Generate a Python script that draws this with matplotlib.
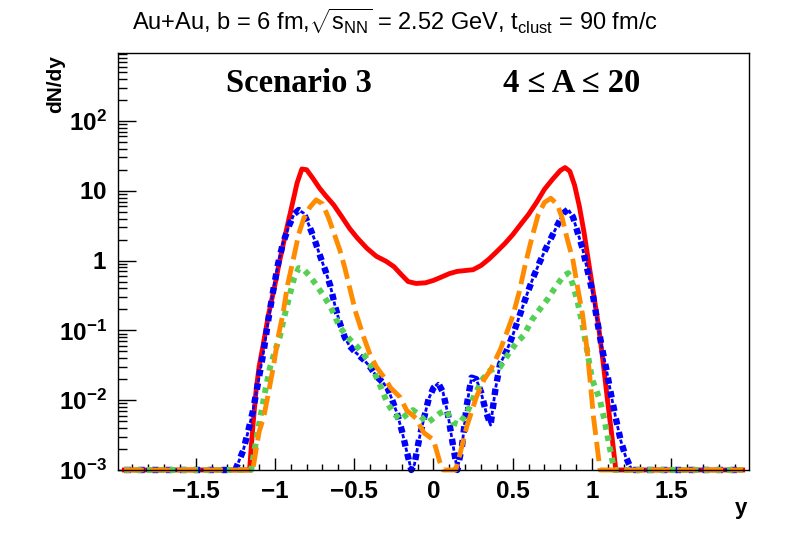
import numpy as np
import matplotlib
matplotlib.use("Agg")
import matplotlib.pyplot as plt
from matplotlib.ticker import LogLocator, FixedLocator, MultipleLocator, FuncFormatter

plt.rcParams['font.family'] = ['Liberation Sans', 'DejaVu Sans']
plt.rcParams['mathtext.fontset'] = 'custom'
plt.rcParams['mathtext.rm'] = 'Liberation Sans'
plt.rcParams['mathtext.it'] = 'Liberation Sans:italic'
plt.rcParams['mathtext.bf'] = 'Liberation Sans:bold'
plt.rcParams['lines.scale_dashes'] = False

# floor of the plot (ROOT draws values below it on the axis)
y_floor = 1e-3
y_major = [1e-3, 1e-2, 1e-1, 1, 10, 100]

# red, solid
x_red = [-1.95, -1.16, -1.14, -1.12, -1.10, -1.07, -1.04, -1.00, -0.97, -0.93, -0.89, -0.86,
         -0.83, -0.80, -0.76, -0.72, -0.68, -0.63, -0.58, -0.53, -0.48, -0.42, -0.36, -0.30,
         -0.25, -0.20, -0.16, -0.11, -0.05, 0.0, 0.05, 0.10, 0.15, 0.20, 0.25, 0.30, 0.35,
         0.40, 0.45, 0.50, 0.55, 0.60, 0.65, 0.70, 0.75, 0.80, 0.83, 0.86, 0.89, 0.92, 0.95,
         0.98, 1.01, 1.04, 1.07, 1.10, 1.13, 1.15, 1.95]
y_red = [0.001, 0.001, 0.004, 0.013, 0.03, 0.07, 0.17, 0.45, 1.0, 2.6, 6.5, 13,
         20.5, 20, 15, 11, 8.5, 6.3, 4.3, 2.9, 2.1, 1.5, 1.15, 0.98,
         0.82, 0.62, 0.50, 0.47, 0.48, 0.52, 0.58, 0.65, 0.70, 0.72, 0.74, 0.85, 1.05,
         1.35, 1.75, 2.35, 3.3, 4.6, 6.8, 10.5, 14.5, 19.5, 21.5, 19, 12, 6, 2.5,
         0.9, 0.33, 0.12, 0.035, 0.009, 0.0025, 0.001, 0.001]

# blue, dot / thin dash
x_blue = [-1.95, -1.25, -1.20, -1.17, -1.14, -1.11, -1.07, -1.04, -1.01, -0.98, -0.95, -0.91,
          -0.88, -0.85, -0.82, -0.79, -0.75, -0.72, -0.68, -0.65, -0.62, -0.59, -0.56, -0.53,
          -0.49, -0.44, -0.40, -0.36, -0.32, -0.29, -0.26, -0.23, -0.20, -0.17, -0.14, -0.12,
          -0.09, -0.06, -0.03, 0.0, 0.03, 0.06, 0.09, 0.12, 0.15, 0.18, 0.21, 0.24, 0.27, 0.30,
          0.33, 0.36, 0.39, 0.42, 0.46, 0.50, 0.55, 0.59, 0.63, 0.67, 0.71, 0.75, 0.79, 0.82,
          0.85, 0.88, 0.91, 0.94, 0.97, 1.00, 1.03, 1.06, 1.09, 1.12, 1.15, 1.18, 1.21, 1.25, 1.95]
y_blue = [0.001, 0.001, 0.0019, 0.0035, 0.0068, 0.016, 0.052, 0.15, 0.38, 0.9, 1.75, 3.2,
          4.6, 5.3, 4.8, 3.4, 2.0, 1.25, 0.7, 0.43, 0.22, 0.126, 0.08, 0.06,
          0.048, 0.038, 0.03, 0.022, 0.018, 0.015, 0.01, 0.0065, 0.0037, 0.0019, 0.001, 0.0012,
          0.0028, 0.0055, 0.0105, 0.015, 0.0175, 0.013, 0.0065, 0.0025, 0.001, 0.0022, 0.0085, 0.021, 0.02, 0.013,
          0.007, 0.0044, 0.014, 0.033, 0.05, 0.085, 0.18, 0.33, 0.58, 0.95, 1.5, 2.3, 3.5, 4.8,
          5.4, 4.2, 2.5, 1.5, 0.75, 0.38, 0.15, 0.06, 0.028, 0.012, 0.0055, 0.0027, 0.0016, 0.001, 0.001]

# green, dotted
x_green = [-1.95, -1.15, -1.12, -1.09, -1.06, -1.03, -1.00, -0.97, -0.94, -0.91, -0.88, -0.85,
           -0.82, -0.78, -0.74, -0.70, -0.65, -0.59, -0.53, -0.48, -0.43, -0.38, -0.33, -0.29,
           -0.25, -0.21, -0.17, -0.13, -0.09, -0.04, 0.0, 0.04, 0.08, 0.12, 0.16, 0.21, 0.26,
           0.31, 0.36, 0.42, 0.47, 0.52, 0.57, 0.62, 0.67, 0.72, 0.77, 0.82, 0.85, 0.88, 0.91,
           0.94, 0.97, 1.00, 1.05, 1.08, 1.11, 1.14, 1.95]
y_green = [0.001, 0.001, 0.0025, 0.006, 0.014, 0.03, 0.05, 0.08, 0.16, 0.3, 0.55, 0.78,
           0.75, 0.6, 0.45, 0.33, 0.22, 0.11, 0.075, 0.058, 0.042, 0.027, 0.015, 0.009,
           0.0065, 0.0052, 0.0062, 0.0072, 0.0062, 0.0047, 0.0055, 0.0065, 0.0072, 0.0048, 0.0045, 0.0065, 0.012,
           0.02, 0.027, 0.03, 0.045, 0.065, 0.085, 0.14, 0.2, 0.28, 0.42, 0.6, 0.66, 0.45, 0.25,
           0.12, 0.05, 0.02, 0.01, 0.005, 0.0022, 0.001, 0.001]

# orange, long dash
x_orange = [-1.95, -1.14, -1.10, -1.07, -1.04, -1.01, -0.98, -0.95, -0.92, -0.88, -0.85, -0.82,
            -0.78, -0.74, -0.70, -0.66, -0.62, -0.59, -0.56, -0.53, -0.49, -0.44, -0.40, -0.36,
            -0.31, -0.27, -0.21, -0.17, -0.11, -0.06, 0.0, 0.04, 0.06, 0.14, 0.17, 0.21, 0.27,
            0.32, 0.36, 0.42, 0.46, 0.50, 0.54, 0.58, 0.62, 0.66, 0.70, 0.74, 0.78, 0.81, 0.84,
            0.88, 0.91, 0.94, 0.97, 0.99, 1.01, 1.03, 1.05, 1.95]
y_orange = [0.001, 0.001, 0.0035, 0.0058, 0.013, 0.03, 0.08, 0.17, 0.45, 1.15, 2.4, 3.9,
            5.8, 7.4, 6.5, 4.0, 2.2, 1.4, 0.8, 0.42, 0.18, 0.08, 0.045, 0.03,
            0.021, 0.015, 0.011, 0.0072, 0.0055, 0.0034, 0.0027, 0.0013, 0.001, 0.001, 0.0018, 0.0042, 0.011,
            0.02, 0.027, 0.052, 0.09, 0.16, 0.35, 0.9, 2.1, 4.5, 6.8, 7.8, 6.4, 4.2, 2.2,
            1.0, 0.4, 0.17, 0.05, 0.017, 0.0055, 0.0024, 0.001, 0.001]

fig = plt.figure(figsize=(7.88, 5.34), dpi=100)
ax = fig.add_axes([0.1497, 0.1199, 0.8008, 0.7808])

lw = 3.5
ax.plot(x_red, np.clip(y_red, y_floor, None), color='#ff0000', lw=lw, clip_on=False,
        solid_joinstyle='round')
# blue: thick square dots with thin dashes in between
yb = np.clip(y_blue, y_floor, None)
ax.plot(x_blue, yb, color='#0000ff', lw=4.6, clip_on=False,
        linestyle=(0, (4.6, 5.4)), dash_capstyle='butt')
ax.plot(x_blue, yb, color='#0000ff', lw=2.0, clip_on=False,
        linestyle=(4.4, (3.0, 7.0)), dash_capstyle='butt')
ax.plot(x_green, np.clip(y_green, y_floor, None), color='#55d055', lw=4.3, clip_on=False,
        linestyle=(0, (4.0, 4.2)), dash_capstyle='butt')
ax.plot(x_orange, np.clip(y_orange, y_floor, None), color='#ff8c00', lw=lw, clip_on=False,
        linestyle=(0, (14, 5)), dash_capstyle='butt')

ax.set_yscale('log')
ax.set_xlim(-1.99, 1.99)
ax.set_ylim(y_floor, 940)

ax.xaxis.set_major_locator(MultipleLocator(0.5))
ax.xaxis.set_minor_locator(MultipleLocator(0.1))
ax.yaxis.set_major_locator(FixedLocator(y_major))
ax.yaxis.set_minor_locator(LogLocator(base=10, subs=np.arange(2, 10), numticks=20))


def ylab(v, pos):
    e = int(round(np.log10(v)))
    if e == 0:
        return r'$\mathbf{1}$'
    if e == 1:
        return r'$\mathbf{10}$'
    return r'$\mathbf{10^{%d}}$' % e


def xlab(v, pos):
    if abs(v) < 1e-9:
        return '0'
    return ('%g' % v).replace('-', '\u2212')


ax.yaxis.set_major_formatter(FuncFormatter(ylab))
ax.yaxis.set_minor_formatter(FuncFormatter(lambda v, p: ''))
ax.xaxis.set_major_formatter(FuncFormatter(xlab))

ax.tick_params(axis='both', which='both', direction='in', top=False, right=False, width=1)
ax.tick_params(axis='y', which='major', length=13, pad=8, labelsize=17.5)
ax.tick_params(axis='y', which='minor', length=6.5)
ax.tick_params(axis='x', which='major', length=8.6, pad=7, labelsize=17.5)
ax.tick_params(axis='x', which='minor', length=4.3)
for lbl in ax.get_xticklabels():
    lbl.set_fontweight('bold')
for sp in ax.spines.values():
    sp.set_linewidth(1)

ax.set_ylabel('dN/dy', fontsize=15, fontweight='bold')
ax.yaxis.set_label_coords(-0.084, 0.995)
ax.yaxis.label.set_ha('right')
ax.set_xlabel('y', fontsize=16, fontweight='bold')
ax.xaxis.set_label_coords(0.998, -0.1055)
ax.xaxis.label.set_ha('right')
ax.xaxis.label.set_va('baseline')

fig.text(0.501, 0.944,
         r'Au+Au, b = 6 fm,$\sqrt{\mathrm{s}_{\mathrm{NN}}}$ = 2.52 GeV, t$_{\mathrm{clust}}$ = 90 fm/c',
         ha='center', va='baseline', fontsize=17)

ax.text(0.171, 0.906, 'Scenario 3', transform=ax.transAxes, ha='left', va='baseline',
        fontsize=23.5, fontweight='bold', family=['Liberation Serif', 'DejaVu Serif'])
ax.text(0.610, 0.906, '4 \u2264 A \u2264 20', transform=ax.transAxes, ha='left', va='baseline',
        fontsize=23.5, fontweight='bold', family=['Liberation Serif', 'DejaVu Serif'])

fig.savefig('out.png', dpi=100)
